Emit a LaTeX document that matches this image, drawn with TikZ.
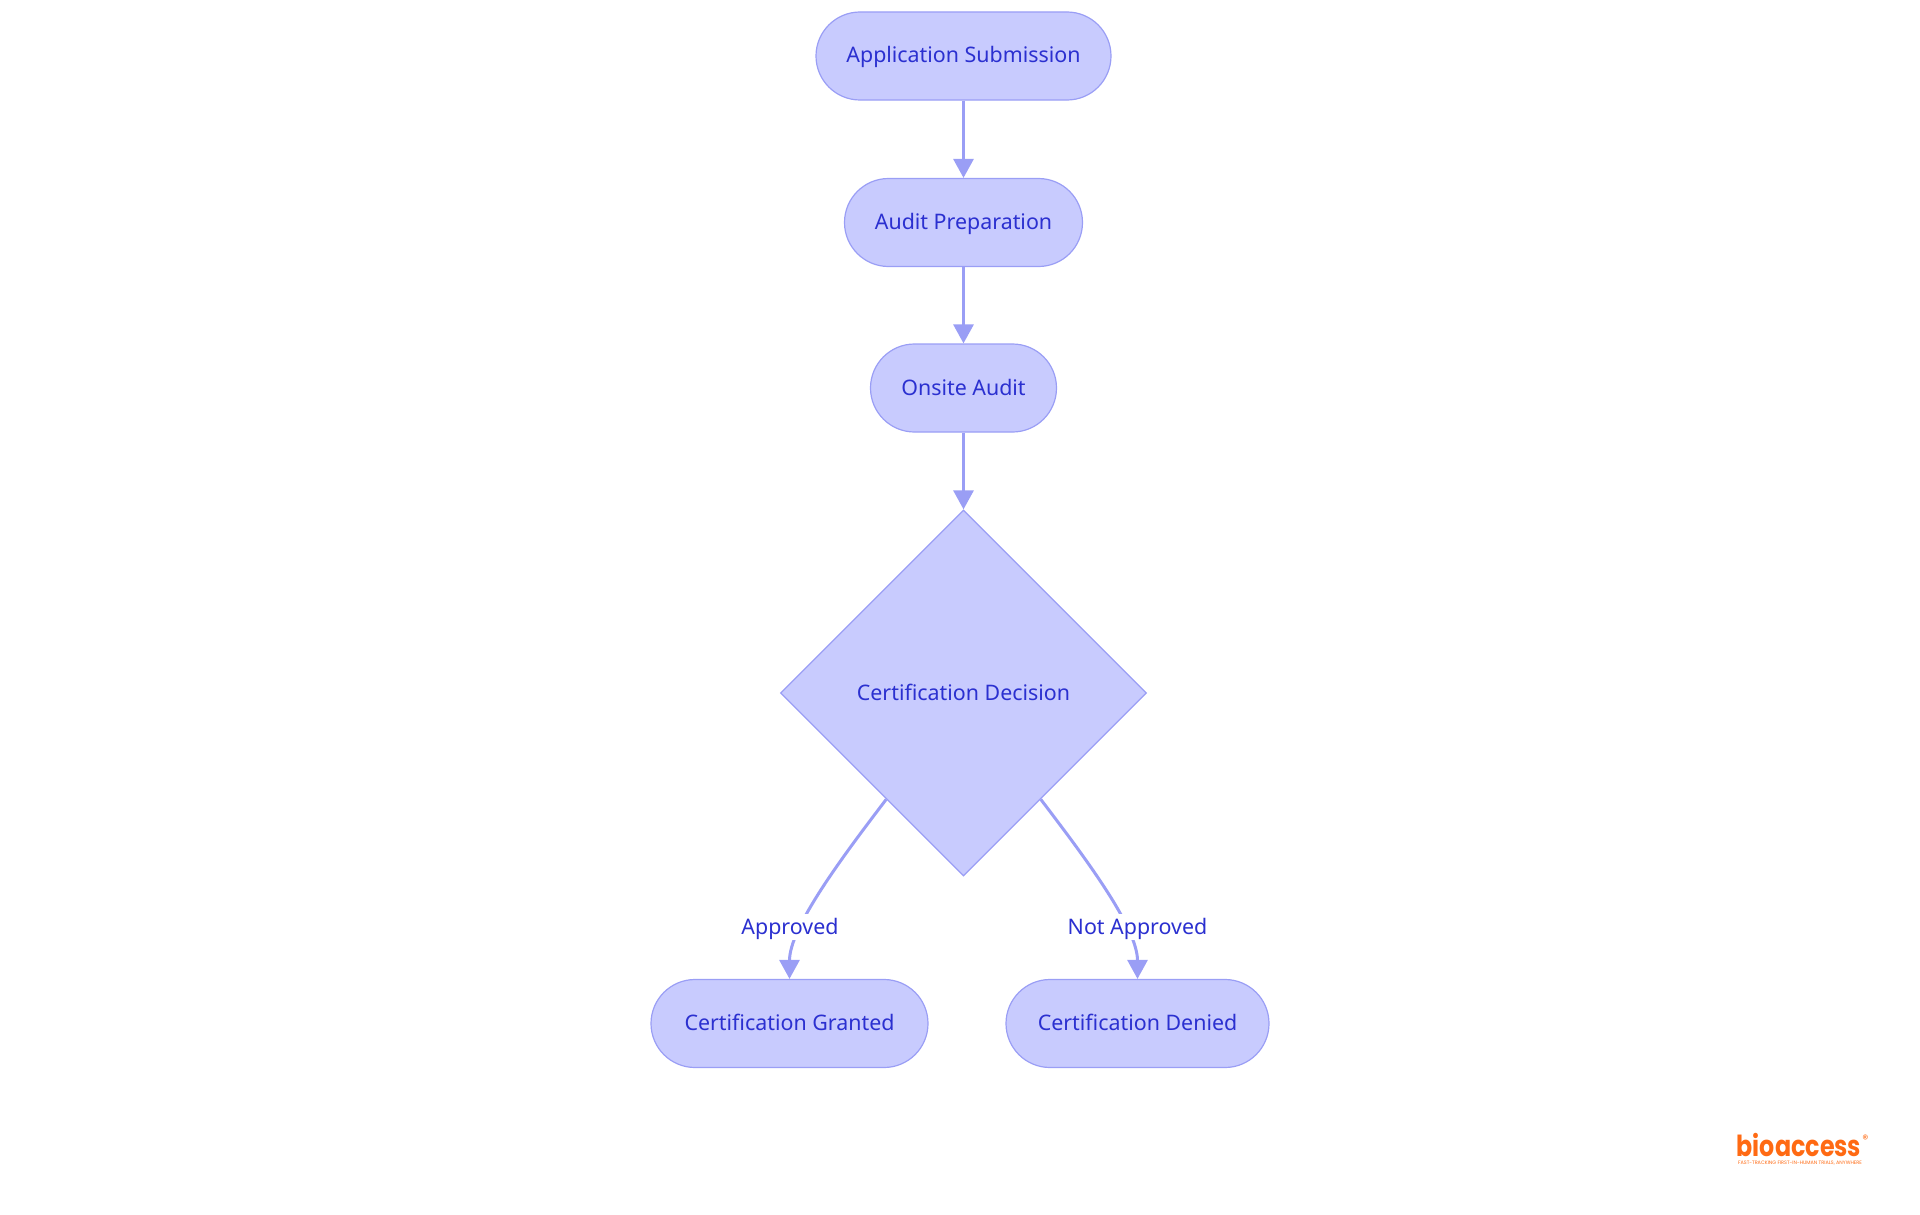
\documentclass[tikz,border=0pt]{standalone}
\usepackage{fontspec}
\setmainfont{Noto Sans}
\newfontfamily\logofont{Poppins}
\usetikzlibrary{arrows.meta,shapes.geometric}
\definecolor{boxfill}{HTML}{C8CBFE}
\definecolor{boxline}{HTML}{9A9EF5}
\definecolor{boxtext}{HTML}{2B30D0}
\definecolor{logoorange}{HTML}{FF6A13}
\tikzset{
    label text/.style={text=boxtext, font=\fontsize{21.4}{24}\selectfont, text height=16.5pt, text depth=2.5pt},
    terminal/.style={label text, draw=boxline, fill=boxfill, line width=1.2pt, rectangle, rounded corners=44pt, minimum height=88pt, inner sep=0pt},
    decision/.style={label text, draw=boxline, fill=boxfill, line width=1.2pt, diamond, aspect=1, minimum width=366pt, minimum height=366pt, inner sep=0pt},
    flow/.style={draw=boxline, line width=3pt, -{Triangle[width=20pt,length=19pt]}},
    edgelabel/.style={label text, fill=white, inner sep=0pt, minimum height=26pt}
}
\begin{document}
\begin{tikzpicture}[x=1pt, y=-1pt]
    \useasboundingbox (0,0) rectangle (1920,1215);
    \node[terminal, minimum width=295pt] (submit) at (963.5,56) {Application Submission};
    \node[terminal, minimum width=238pt] (prep) at (963.5,222.5) {Audit Preparation};
    \node[terminal, minimum width=186pt] (audit) at (963.5,388) {Onsite Audit};
    \node[decision] (dec) at (963.5,693) {Certification Decision};
    \node[terminal, minimum width=277pt] (grant) at (789.5,1023.5) {Certification Granted};
    \node[terminal, minimum width=263pt] (deny) at (1137.5,1023.5) {Certification Denied};
    \draw[flow] (submit) -- (prep);
    \draw[flow] (prep) -- (audit);
    \draw[flow] (audit) -- (dec);
    \draw[flow] (dec.234) .. controls (840,860) and (789.5,928) .. (grant.north);
    \draw[flow] (dec.-54) .. controls (1087,860) and (1137.5,928) .. (deny.north);
    % EDGE LABELS
    \node[edgelabel] (yes) at (790,927) {Approved};
    \node[edgelabel] (no) at (1137.5,927) {Not Approved};
    % LOGO
    \node[inner sep=0pt, xscale=0.82, text=logoorange, font=\logofont\bfseries\fontsize{29}{29}\selectfont] (logo) at (1799,1145) {bioaccess};
    \node[inner sep=0pt, text=logoorange, font=\logofont\fontsize{12}{12}\selectfont] (mark) at (1865.5,1139) {®};
    \node[inner sep=0pt, text=logoorange, font=\logofont\fontsize{4.9}{5}\selectfont] (tag) at (1800,1163) {FAST-TRACKING FIRST-IN-HUMAN TRIALS, ANYWHERE};
\end{tikzpicture}
\end{document}
